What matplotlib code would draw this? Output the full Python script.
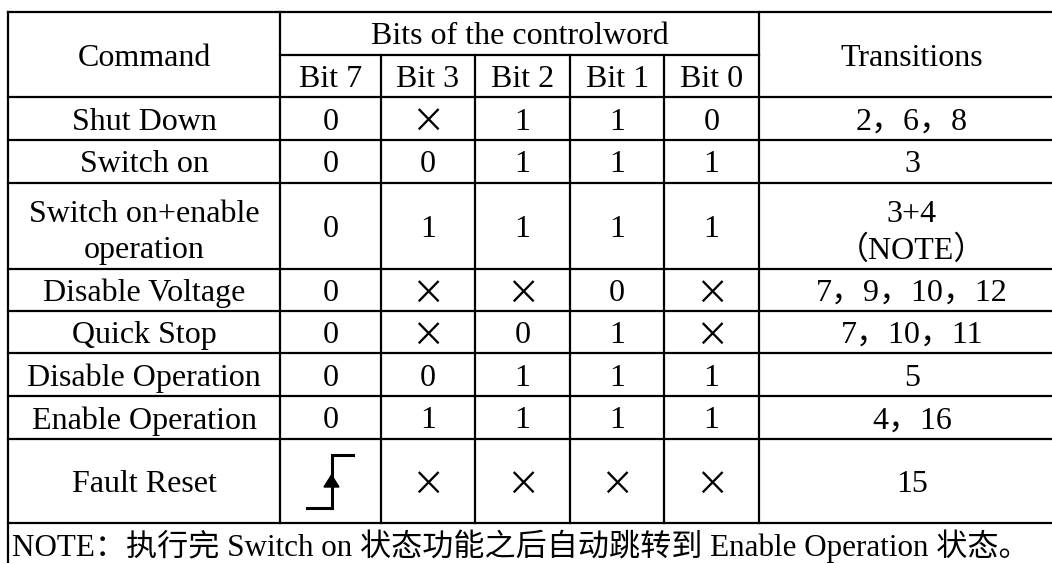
import numpy as np
import matplotlib
matplotlib.use('Agg')
import matplotlib.pyplot as plt
from matplotlib.patches import Polygon

SERIF = ['Liberation Serif', 'Noto Sans CJK SC', 'DejaVu Sans']
matplotlib.rc('font', size=23)
plt.rcParams['font.family'] = SERIF

X = '\u00d7'
commands = ['Shut Down', 'Switch on', 'Switch on+enable\noperation', 'Disable Voltage',
            'Quick Stop', 'Disable Operation', 'Enable Operation', 'Fault Reset']
bit_names = ['Bit 7', 'Bit 3', 'Bit 2', 'Bit 1', 'Bit 0']
bit7 = ['0', '0', '0', '0', '0', '0', '0', 'step']
bit3 = [X, '0', '1', X, X, '0', '1', X]
bit2 = ['1', '1', '1', X, '0', '1', '1', X]
bit1 = ['1', '1', '1', '0', '1', '1', '1', X]
bit0 = ['0', '1', '1', X, X, '1', '1', X]
transitions = ['2，6，8', '3', '3+4\n（NOTE）', '7，9，10，12', '7，10，11', '5', '4，16', '15']
note = 'NOTE：执行完 Switch on 状态功能之后自动跳转到 Enable Operation 状态。'

# layout (pixels); the right border lies just outside the picture
W, H = 1052, 563
col_x = [8, 280, 381, 475, 570, 664, 759, 1065]
top = 12
head_h = [43, 42]
row_h = [43, 43, 86, 42, 42, 43, 43, 84]
note_h = 40
lw = 1.6

fig = plt.figure(figsize=(W / 100, H / 100), dpi=100)
ax = fig.add_axes([0, 0, 1, 1])
ax.set_xlim(0, W)
ax.set_ylim(H, 0)
ax.axis('off')

mid = top + head_h[0]
body_top = mid + head_h[1]
row_y = np.concatenate([[body_top], body_top + np.cumsum(row_h)])
table_bot = row_y[-1]

def hline(y, x0, x1):
    ax.plot([x0, x1], [y, y], color='black', lw=lw, solid_capstyle='projecting')

def vline(x, y0, y1):
    ax.plot([x, x], [y0, y1], color='black', lw=lw, solid_capstyle='projecting')

def txt(x, y, s, **kw):
    ax.text(x, y, s, ha='center', va='center_baseline', linespacing=1.3, **kw)

# grid
hline(top, col_x[0], W)
hline(mid, col_x[1], col_x[6])
for y in row_y:
    hline(y, col_x[0], W)
vline(col_x[0], top, H)
vline(col_x[1], top, table_bot)
vline(col_x[6], top, table_bot)
for x in col_x[2:6]:
    vline(x, mid, table_bot)

# header
txt((col_x[0] + col_x[1]) / 2, (top + body_top) / 2, 'Command')
txt((col_x[1] + col_x[6]) / 2, (top + mid) / 2, 'Bits of the controlword')
txt((col_x[6] + col_x[7]) / 2, (top + body_top) / 2, 'Transitions')
for i, b in enumerate(bit_names):
    txt((col_x[i + 1] + col_x[i + 2]) / 2, (mid + body_top) / 2, b)

# body
bits = [bit7, bit3, bit2, bit1, bit0]
for r in range(len(commands)):
    yc = (row_y[r] + row_y[r + 1]) / 2
    txt((col_x[0] + col_x[1]) / 2, yc, commands[r])
    for c, col in enumerate(bits):
        xc = (col_x[c + 1] + col_x[c + 2]) / 2
        v = col[r]
        if v == 'step':
            # rising edge symbol
            ax.plot([xc - 24, xc + 1, xc + 1, xc + 22], [yc + 27, yc + 27, yc - 26, yc - 26],
                    color='black', lw=2.2, solid_joinstyle='miter')
            ax.add_patch(Polygon([[xc + 1, yc - 6], [xc - 6.5, yc + 6], [xc + 8.5, yc + 6]],
                                 closed=True, color='black'))
        elif v == X:
            ax.text(xc, yc + 4, v, ha='center', va='center', fontsize=24,
                    family=['Noto Sans CJK SC'], fontweight='light')
        else:
            txt(xc, yc, v)
    txt((col_x[6] + col_x[7]) / 2, yc, transitions[r])

# note row
ax.text(col_x[0] + 4, table_bot + note_h / 2, note, ha='left', va='center_baseline',
        fontsize=22.4)

fig.savefig('out.png', dpi=100)
